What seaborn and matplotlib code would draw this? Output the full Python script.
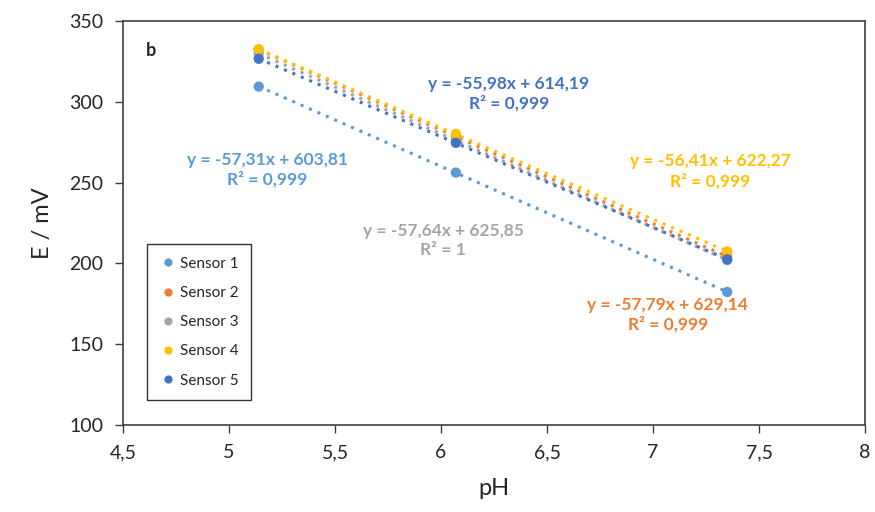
import matplotlib
matplotlib.use("Agg")
import matplotlib.pyplot as plt
import numpy as np
import pandas as pd
import seaborn as sns

ph = [5.14, 6.07, 7.35]
sensor_names = ["Sensor 1", "Sensor 2", "Sensor 3", "Sensor 4", "Sensor 5"]
sensor_1 = [309.4, 256.2, 182.3]
sensor_2 = [332.3, 278.6, 204.2]
sensor_3 = [329.8, 276.2, 202.0]
sensor_4 = [332.5, 280.1, 207.4]
sensor_5 = [326.6, 274.6, 202.5]
equations = [
    "y = -57,31x + 603,81\nR² = 0,999",
    "y = -57,79x + 629,14\nR² = 0,999",
    "y = -57,64x + 625,85\nR² = 1",
    "y = -56,41x + 622,27\nR² = 0,999",
    "y = -55,98x + 614,19\nR² = 0,999",
]
label_pos = [(5.18, 258), (7.07, 168), (6.01, 214), (7.27, 257), (6.32, 305)]
colors = ["#5B9BD5", "#ED7D31", "#A5A5A5", "#FFC000", "#4472C4"]
x_ticks = [4.5, 5, 5.5, 6, 6.5, 7, 7.5, 8]
x_ticklabels = ["4,5", "5", "5,5", "6", "6,5", "7", "7,5", "8"]
y_ticks = [100, 150, 200, 250, 300, 350]

series = [sensor_1, sensor_2, sensor_3, sensor_4, sensor_5]
df = pd.DataFrame(
    {
        "pH": ph * len(series),
        "E": sum(series, []),
        "sensor": [name for name in sensor_names for _ in ph],
    }
)

sns.set_style("white")
plt.rcParams["font.family"] = ["Lato", "DejaVu Sans"]

fig = plt.figure(figsize=(8.75, 5.12), dpi=100)
ax = fig.add_axes([0.1406, 0.170, 0.8480, 0.789])

# trendlines first (dotted), then markers on top
for name, color in zip(sensor_names, colors):
    sub = df[df["sensor"] == name]
    slope, intercept = np.polyfit(sub["pH"], sub["E"], 1)
    xs = np.array([sub["pH"].min(), sub["pH"].max()])
    ax.plot(xs, slope * xs + intercept, linestyle=(0, (1, 2.0)), color=color, lw=2.2, zorder=2)

sns.scatterplot(
    data=df, x="pH", y="E", hue="sensor", palette=colors, hue_order=sensor_names,
    s=55, edgecolor="none", ax=ax, zorder=3,
)

for text, (tx, ty), color in zip(equations, label_pos, colors):
    ax.text(tx, ty, text, color=color, fontsize=12.5, fontweight="bold",
            ha="center", va="center", linespacing=1.25)

ax.text(4.61, 332, "b", fontsize=13, fontweight="bold", ha="left", va="center")

ax.set_xlim(4.5, 8)
ax.set_ylim(100, 350)
ax.set_xticks(x_ticks)
ax.set_xticklabels(x_ticklabels)
ax.set_yticks(y_ticks)
ax.tick_params(axis="both", labelsize=14, direction="out", length=6, width=1,
               color="#404040", bottom=True, left=True, pad=8)
for spine in ax.spines.values():
    spine.set_visible(True)
    spine.set_color("#404040")
    spine.set_linewidth(1.2)

ax.set_xlabel("pH", fontsize=17, labelpad=12)
ax.set_ylabel("E / mV", fontsize=17, labelpad=12)

leg = ax.legend(loc="lower left", bbox_to_anchor=(0.032, 0.062), fontsize=11,
                frameon=True, fancybox=False, borderpad=0.8, labelspacing=1.0,
                handletextpad=0.2, handlelength=1.2, borderaxespad=0, markerscale=0.8)
leg.get_frame().set_edgecolor("black")
leg.get_frame().set_linewidth(1)

fig.savefig("out.png", dpi=100)
